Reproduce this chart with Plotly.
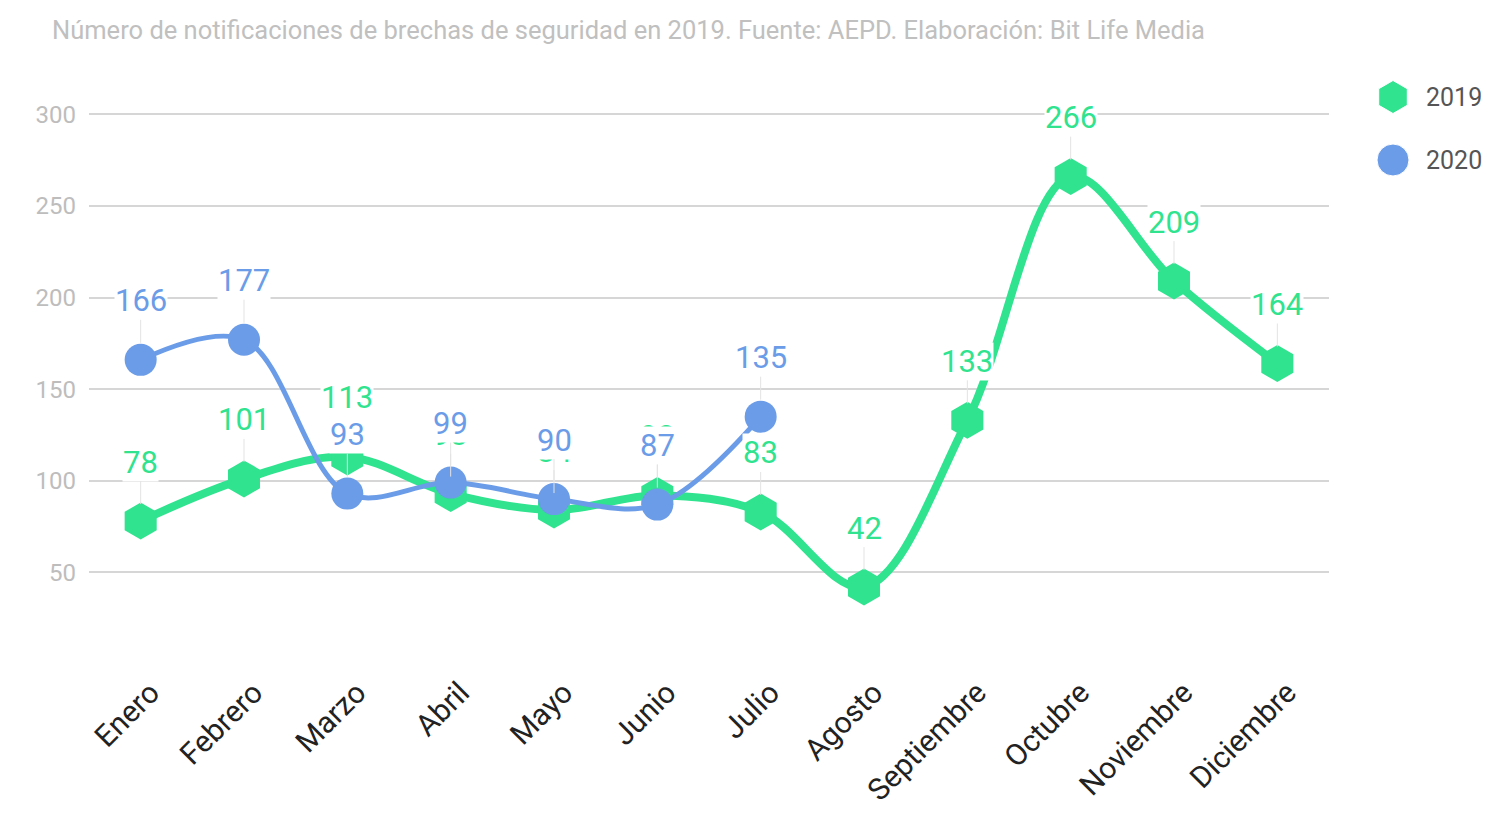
import plotly.graph_objects as go

months = ["Enero", "Febrero", "Marzo", "Abril", "Mayo", "Junio", "Julio",
          "Agosto", "Septiembre", "Octubre", "Noviembre", "Diciembre"]
values_2019 = [78, 101, 113, 93, 84, 92, 83, 42, 133, 266, 209, 164]
months_2020 = months[:7]
values_2020 = [166, 177, 93, 99, 90, 87, 135]
series_names = ["2019", "2020"]
y_ticks = [50, 100, 150, 200, 250, 300]
title_text = ("Número de notificaciones de brechas de seguridad en 2019. "
              "Fuente: AEPD. Elaboración: Bit Life Media")

GREEN = "#2fe38f"
BLUE = "#6b9ce8"
FONT = "Roboto"

# page body has an 8px default margin; work in figure coordinates
OFF = 8
W, H = 1490 - OFF, 813 - OFF
L, R, T, B = 89 - OFF, 0, 96 - OFF, 149
PLOT_RIGHT = 1329 - OFF
pw = W - L - R
main_end = (PLOT_RIGHT - L) / pw
LEG_X = 1393 - OFF - PLOT_RIGHT
LEG_Y = [97 - OFF, 160 - OFF]

fig = go.Figure()
fig.add_trace(go.Scatter(
    x=months, y=values_2019, name=series_names[0], mode="lines+markers",
    line=dict(color=GREEN, width=8, shape="spline", smoothing=1),
    marker=dict(symbol="hexagon", size=37, color=GREEN),
    showlegend=False, cliponaxis=False))
fig.add_trace(go.Scatter(
    x=months_2020, y=values_2020, name=series_names[1], mode="lines+markers",
    line=dict(color=BLUE, width=5, shape="spline", smoothing=1),
    marker=dict(symbol="circle", size=32, color=BLUE),
    showlegend=False, cliponaxis=False))

# custom legend on an auxiliary axis
fig.add_trace(go.Scatter(
    x=[LEG_X, LEG_X], y=LEG_Y, mode="markers", xaxis="x2", yaxis="y2",
    marker=dict(symbol=["hexagon", "circle"], size=[33, 32],
                color=[GREEN, BLUE], opacity=1),
    showlegend=False, cliponaxis=False, hoverinfo="skip"))

annotations = []
for names, vals, col in [(months, values_2019, GREEN), (months_2020, values_2020, BLUE)]:
    for m, v in zip(names, vals):
        annotations.append(dict(
            x=m, y=v, xref="x", yref="y", text=str(v), showarrow=True,
            ax=0, ay=-59, arrowhead=0, arrowwidth=1, arrowcolor="#e3e3e3",
            standoff=17, bgcolor="white", borderpad=0,
            font=dict(family=FONT, size=31, color=col)))

for name, yy in zip(series_names, LEG_Y):
    annotations.append(dict(
        x=LEG_X + 31, y=yy, xref="x2", yref="y2", text=name, showarrow=False,
        xanchor="left", yanchor="middle",
        font=dict(family=FONT, size=25, color="#555555")))

fig.update_layout(
    width=W, height=H,
    margin=dict(l=L, r=R, t=T, b=B, autoexpand=False),
    paper_bgcolor="white", plot_bgcolor="white",
    title=dict(text=title_text, xref="container", yref="container",
               x=(52 - OFF) / W, xanchor="left", y=1 - (30 - OFF) / H,
               yanchor="middle",
               font=dict(family=FONT, size=25.5, color="#c0c0c0")),
    xaxis=dict(domain=[0, main_end], type="category", range=[-0.5, 11.5],
               showgrid=False, zeroline=False, showline=False, ticks="",
               tickangle=-45, ticklabelstandoff=4, ticklabelshift=10,
               tickfont=dict(family=FONT, size=30, color="#222222")),
    yaxis=dict(range=[0, 310], tickvals=y_ticks, showgrid=True,
               gridcolor="#d6d6d6", gridwidth=2, zeroline=False,
               showline=False, ticks="", ticklabelstandoff=12,
               tickfont=dict(family=FONT, size=24, color="#bdbdbd")),
    xaxis2=dict(domain=[main_end, 1], range=[0, W - PLOT_RIGHT], visible=False,
                anchor="y2", fixedrange=True),
    yaxis2=dict(domain=[0, 1], range=[H - B, T], visible=False,
                anchor="x2", fixedrange=True),
    annotations=annotations,
    showlegend=False,
)

fig.write_html("out.html")
